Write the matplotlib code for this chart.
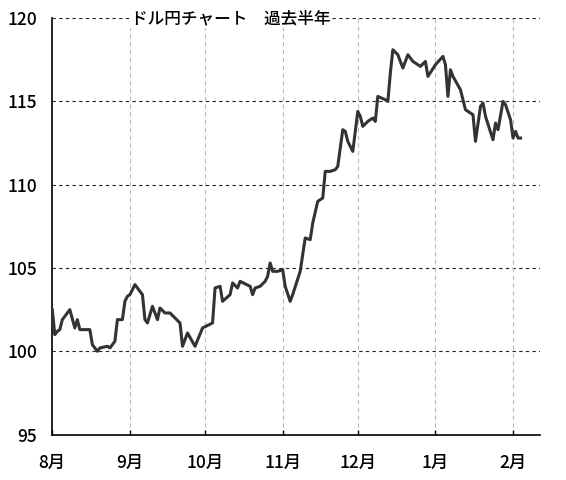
import pandas as pd
import matplotlib
matplotlib.use("Agg")
import matplotlib.pyplot as plt

plt.rcParams['font.family'] = ['Noto Sans CJK JP', 'DejaVu Sans']

## USD/JPY closes (2016-08 .. 2017-02)
dates = [
    "2016-08-01", "2016-08-02", "2016-08-03", "2016-08-04", "2016-08-05", "2016-08-08",
    "2016-08-10", "2016-08-11", "2016-08-12", "2016-08-16", "2016-08-17", "2016-08-19",
    "2016-08-20", "2016-08-23", "2016-08-24", "2016-08-26", "2016-08-27", "2016-08-29",
    "2016-08-30", "2016-08-31", "2016-09-01", "2016-09-03", "2016-09-06", "2016-09-07",
    "2016-09-08", "2016-09-10", "2016-09-12", "2016-09-13", "2016-09-15", "2016-09-17",
    "2016-09-21", "2016-09-22", "2016-09-24", "2016-09-27", "2016-09-30", "2016-10-04",
    "2016-10-05", "2016-10-07", "2016-10-08", "2016-10-11", "2016-10-12", "2016-10-14",
    "2016-10-15", "2016-10-19", "2016-10-20", "2016-10-21", "2016-10-23", "2016-10-25",
    "2016-10-26", "2016-10-27", "2016-10-28", "2016-10-30", "2016-11-01", "2016-11-02",
    "2016-11-04", "2016-11-05", "2016-11-08", "2016-11-10", "2016-11-12", "2016-11-13",
    "2016-11-15", "2016-11-17", "2016-11-18", "2016-11-20", "2016-11-22", "2016-11-23",
    "2016-11-25", "2016-11-26", "2016-11-27", "2016-11-29", "2016-12-01", "2016-12-02",
    "2016-12-03", "2016-12-05", "2016-12-07", "2016-12-08", "2016-12-09", "2016-12-12",
    "2016-12-13", "2016-12-14", "2016-12-15", "2016-12-17", "2016-12-19", "2016-12-21",
    "2016-12-23", "2016-12-26", "2016-12-28", "2016-12-29", "2017-01-01", "2017-01-04",
    "2017-01-05", "2017-01-06", "2017-01-07", "2017-01-08", "2017-01-11", "2017-01-13",
    "2017-01-16", "2017-01-17", "2017-01-19", "2017-01-20", "2017-01-21", "2017-01-24",
    "2017-01-25", "2017-01-26", "2017-01-28", "2017-01-29", "2017-01-31", "2017-02-01",
    "2017-02-02", "2017-02-03", "2017-02-04",
]
rates = [
    102.5, 101.0, 101.2, 101.3, 101.9, 102.5,
    101.4, 101.9, 101.3, 101.3, 100.4, 100.0,
    100.2, 100.3, 100.2, 100.6, 101.9, 101.9,
    103.0, 103.3, 103.4, 104.0, 103.4, 101.9,
    101.7, 102.7, 101.9, 102.6, 102.3, 102.3,
    101.7, 100.3, 101.1, 100.3, 101.4, 101.7,
    103.8, 103.9, 103.0, 103.4, 104.1, 103.8,
    104.2, 103.9, 103.4, 103.8, 103.9, 104.2,
    104.5, 105.3, 104.8, 104.8, 104.9, 103.9,
    103.0, 103.4, 104.8, 106.8, 106.7, 107.7,
    109.0, 109.2, 110.8, 110.8, 110.9, 111.1,
    113.3, 113.2, 112.6, 112.0, 114.4, 114.1,
    113.5, 113.8, 114.0, 113.8, 115.3, 115.1,
    115.0, 116.7, 118.1, 117.8, 117.0, 117.8,
    117.4, 117.1, 117.4, 116.5, 117.2, 117.7,
    117.2, 115.3, 116.9, 116.5, 115.7, 114.5,
    114.2, 112.6, 114.7, 114.9, 114.1, 112.7,
    113.7, 113.3, 115.0, 114.8, 113.9, 112.8,
    113.2, 112.8, 112.8,
]

month_starts = ["2016-08-01", "2016-09-01", "2016-10-01", "2016-11-01",
                "2016-12-01", "2017-01-01", "2017-02-01"]
month_labels = ["8月", "9月", "10月", "11月", "12月", "1月", "2月"]
y_ticks = [95, 100, 105, 110, 115, 120]

df = pd.DataFrame({"date": pd.to_datetime(dates), "rate": rates})

fig = plt.figure(figsize=(5.66, 4.8), dpi=100)
ax = fig.add_axes([0.0924, 0.0946, 0.8616, 0.8677])

ax.plot(df["date"], df["rate"], color="#333333", linewidth=2.2, zorder=3)

ax.set_ylim(95, 120)
ax.set_xlim(pd.Timestamp("2016-08-01"), pd.Timestamp("2017-02-11 18:00"))

ax.set_yticks(y_ticks)
ax.set_yticklabels([str(v) for v in y_ticks])
ax.set_xticks(pd.to_datetime(month_starts))
ax.set_xticklabels(month_labels)

# grid: black dashed horizontals, light grey dashed verticals
for v in y_ticks[1:]:
    ax.axhline(v, color="#222222", linestyle=(0, (3, 3)), linewidth=0.8, zorder=1)
for d in pd.to_datetime(month_starts[1:]):
    ax.axvline(d, color="#bbbbbb", linestyle=(0, (4, 3)), linewidth=0.8, zorder=1)

for s in ["top", "right"]:
    ax.spines[s].set_visible(False)
ax.spines["left"].set_linewidth(1.2)
ax.spines["bottom"].set_linewidth(1.2)

ax.tick_params(axis="y", length=0, pad=11, labelsize=12.5)
ax.tick_params(axis="x", direction="in", length=3.5, width=1.0, pad=14, labelsize=12.5)
for lbl in ax.get_xticklabels() + ax.get_yticklabels():
    lbl.set_fontweight("medium")

ax.text(0.162, 1.0, "ドル円チャート　過去半年", transform=ax.transAxes,
        fontsize=12, fontweight="medium", ha="left", va="center", zorder=4,
        bbox=dict(facecolor="white", edgecolor="none", pad=1))

fig.savefig("out.png", dpi=100)
